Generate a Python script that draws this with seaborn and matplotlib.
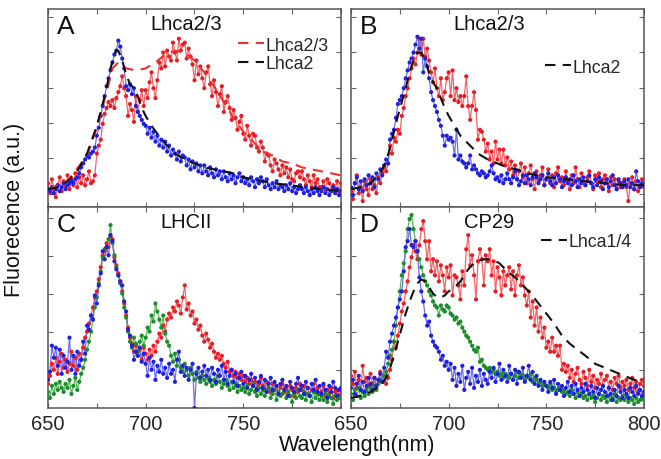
import numpy as np
import pandas as pd
import matplotlib
matplotlib.use("Agg")
import matplotlib.pyplot as plt
import seaborn as sns

sns.set_theme(style="ticks")
plt.rcParams["font.family"] = ["Liberation Sans", "DejaVu Sans"]

# wavelength grid (nm), 1 nm steps
wavelength = list(range(650, 801))

# ---------------- Panel A: Lhca2/3 ----------------
a_red = [
    12, 7, 14, 9, 5, 11, 15, 8, 13, 10,
    16, 9, 14, 11, 17, 10, 15, 12, 16, 11,
    14, 18, 12, 13, 16, 27, 31, 34, 42, 47,
    50, 53, 51, 54, 50, 55, 58, 61, 66, 60,
    56, 46, 52, 49, 43, 56, 48, 54, 59, 51,
    59, 55, 63, 68, 60, 55, 64, 73, 70, 78,
    71, 79, 76, 74, 83, 78, 74, 85, 79, 82,
    83, 75, 80, 76, 72, 64, 74, 67, 71, 65,
    60, 68, 71, 62, 56, 64, 58, 51, 57, 61,
    48, 53, 56, 50, 44, 49, 45, 39, 43, 46,
    37, 34, 41, 36, 31, 37, 36, 30, 28, 33,
    30, 23, 27, 26, 21, 18, 24, 22, 19, 16,
    21, 17, 20, 15, 19, 14, 13, 17, 18, 15,
    18, 14, 11, 16, 13, 10, 16, 12, 14, 10,
    10, 13, 9, 14, 12, 8, 11, 9, 13, 8,
    12]
a_blue = [
    9, 8, 10, 7, 9, 11, 8, 10, 12, 9,
    11, 12, 13, 12, 14, 15, 17, 20, 22, 24,
    26, 25, 27, 28, 30, 36, 40, 46, 51, 56,
    61, 65, 69, 73, 77, 79, 84, 81, 75, 70,
    61, 59, 62, 57, 60, 51, 48, 46, 44, 42,
    41, 37, 40, 35, 38, 33, 36, 31, 34, 30,
    33, 28, 31, 26, 29, 27, 24, 28, 23, 26,
    25, 21, 24, 19, 23, 20, 22, 18, 21, 17,
    21, 18, 16, 20, 17, 15, 19, 16, 18, 14,
    18, 15, 13, 17, 14, 16, 12, 15, 17, 13,
    15, 12, 14, 11, 15, 13, 10, 14, 12, 15,
    13, 10, 14, 11, 9, 12, 10, 13, 9, 11,
    10, 8, 11, 9, 12, 8, 10, 7, 9, 11,
    9, 7, 10, 8, 6, 9, 7, 10, 8, 6,
    8, 10, 7, 9, 6, 8, 10, 7, 9, 6,
    8]
a_fit23_x = [650, 660, 670, 675, 680, 683, 686, 690, 695, 700, 705, 710, 715,
             720, 725, 730, 735, 740, 745, 750, 755, 760, 765, 770, 775, 780,
             785, 790, 795, 800]
a_fit23_y = [9, 13, 26, 40, 58, 70, 73, 70, 69, 70, 73, 77, 79,
             78, 74, 68, 61, 53, 45, 38, 33, 28, 26, 23, 22, 20,
             19, 18, 17, 16]
a_fit2_x = [650, 655, 660, 665, 670, 675, 678, 680, 682, 684, 685, 686, 688,
            690, 692, 694, 696, 698, 700, 703, 706, 710, 715, 720, 725, 730,
            735, 740, 745, 750, 755, 760, 765, 770, 775, 780, 785, 790, 795, 800]
a_fit2_y = [9, 10, 13, 18, 27, 41, 52, 60, 70, 77, 79, 79, 74,
            67, 62, 60, 56, 50, 46, 41, 37, 32, 27, 24, 22, 20,
            19, 18, 17, 15, 14, 13, 12, 11.5, 11, 10, 9.5, 9, 8.5, 8]

# ---------------- Panel B: Lhca2/3 ----------------
b_red = [
    8, 4, 12, 16, 7, 10, 3, 13, 9, 6,
    14, 9, 11, 7, 15, 12, 17, 20, 18, 22,
    31, 27, 35, 33, 39, 37, 46, 50, 56, 60,
    65, 70, 75, 72, 78, 85, 77, 85, 76, 80,
    74, 68, 63, 70, 60, 56, 65, 54, 58, 65,
    68, 56, 69, 54, 60, 53, 56, 51, 56, 66,
    51, 44, 51, 58, 49, 34, 39, 38, 34, 28,
    32, 24, 28, 22, 33, 24, 29, 22, 29, 21,
    25, 19, 23, 16, 21, 14, 18, 22, 15, 20,
    12, 17, 21, 14, 9, 18, 13, 16, 20, 11,
    14, 19, 12, 16, 10, 17, 20, 13, 15, 11,
    18, 13, 9, 16, 12, 20, 14, 10, 17, 13,
    11, 15, 18, 12, 9, 16, 13, 17, 10, 14,
    16, 12, 8, 15, 11, 14, 9, 13, 10, 12,
    14, 10, 3, 12, 15, 9, 13, 8, 11, 14,
    10]
b_blue = [
    10, 6, 12, 15, 9, 13, 8, 14, 11, 16,
    12, 15, 10, 17, 14, 19, 16, 21, 24, 22,
    34, 37, 39, 45, 52, 54, 56, 60, 65, 69,
    73, 75, 78, 82, 86, 80, 85, 68, 75, 71,
    65, 58, 54, 51, 48, 44, 41, 36, 31, 36,
    34, 35, 33, 26, 39, 24, 26, 23, 22, 20,
    22, 26, 19, 21, 19, 17, 16, 18, 17, 15,
    16, 18, 21, 17, 14, 15, 13, 16, 12, 14,
    17, 14, 12, 15, 18, 14, 11, 13, 16, 12,
    16, 14, 11, 15, 17, 15, 12, 14, 16, 11,
    14, 17, 13, 11, 15, 12, 16, 14, 10, 13,
    15, 12, 14, 11, 16, 13, 10, 14, 12, 15,
    11, 13, 16, 12, 10, 14, 11, 15, 13, 9,
    12, 14, 10, 13, 16, 11, 9, 14, 12, 10,
    13, 11, 14, 10, 12, 9, 18, 13, 10, 12,
    11]
b_fit2_x = [650, 655, 660, 665, 668, 670, 672, 674, 676, 678, 680, 682, 684,
            686, 688, 690, 692, 694, 696, 698, 700, 703, 706, 710, 715, 720,
            725, 730, 735, 740, 745, 750, 760, 770, 780, 790, 800]
b_fit2_y = [9, 10, 12, 17, 23, 30, 38, 46, 53, 60, 68, 74, 78,
            78, 74, 68, 63, 60, 55, 50, 46, 41, 36, 32, 27, 24,
            22, 20, 19, 17, 16, 15, 14, 13, 12, 11, 11]

# ---------------- Panel C: LHCII ----------------
c_red = [
    12, 16, 22, 19, 25, 17, 23, 27, 20, 24,
    18, 22, 28, 21, 25, 19, 27, 24, 30, 35,
    38, 42, 46, 50, 55, 58, 64, 70, 76, 78,
    82, 80, 85, 84, 75, 71, 67, 63, 58, 52,
    46, 40, 35, 32, 28, 31, 26, 29, 24, 30,
    27, 24, 29, 26, 31, 28, 33, 37, 35, 41,
    38, 44, 47, 45, 50, 48, 53, 51, 47, 55,
    61, 49, 52, 46, 48, 42, 44, 39, 41, 36,
    33, 37, 34, 30, 32, 28, 25, 27, 24, 26,
    22, 20, 23, 18, 19, 16, 18, 15, 17, 14,
    16, 13, 15, 12, 14, 11, 13, 10, 12, 15,
    11, 9, 13, 10, 8, 12, 9, 11, 7, 10,
    12, 8, 10, 7, 11, 9, 6, 10, 8, 12,
    9, 11, 7, 10, 6, 9, 12, 8, 10, 7,
    8, 11, 6, 9, 7, 10, 5, 8, 9, 6,
    7]
c_green = [
    8, 5, 11, 7, 12, 9, 13, 10, 8, 12,
    10, 14, 7, 11, 15, 9, 13, 17, 20, 24,
    29, 33, 38, 44, 50, 55, 62, 68, 75, 79,
    80, 84, 91, 82, 76, 70, 66, 62, 57, 50,
    45, 38, 33, 30, 35, 32, 28, 33, 36, 31,
    35, 40, 38, 46, 43, 52, 48, 44, 40, 46,
    37, 33, 31, 26, 23, 27, 21, 24, 20, 18,
    22, 19, 16, 20, 17, 14, 18, 15, 13, 16,
    14, 12, 15, 13, 11, 14, 12, 16, 13, 10,
    12, 14, 11, 9, 13, 10, 12, 8, 11, 9,
    10, 8, 11, 7, 9, 12, 8, 6, 10, 7,
    9, 6, 8, 10, 5, 7, 9, 4, 8, 6,
    7, 9, 5, 8, 6, 3, 7, 5, 9, 6,
    5, 8, 4, 7, 6, 3, 8, 5, 7, 4,
    6, 4, 7, 3, 6, 5, 2, 6, 4, 5,
    5]
c_blue = [
    14, 18, 31, 25, 30, 21, 29, 17, 26, 20,
    23, 35, 19, 26, 17, 28, 21, 24, 33, 27,
    41, 39, 46, 44, 56, 52, 61, 67, 78, 74,
    80, 76, 86, 83, 73, 69, 66, 63, 61, 53,
    48, 39, 36, 31, 24, 28, 26, 30, 23, 27,
    22, 16, 25, 19, 23, 14, 21, 18, 24, 17,
    20, 15, 22, 17, 19, 13, 24, 28, 18, 21,
    16, 20, 14, 19, 22, 0, 17, 20, 15, 18,
    21, 16, 19, 14, 20, 17, 13, 19, 16, 21,
    14, 18, 12, 16, 19, 13, 17, 11, 15, 18,
    12, 16, 10, 14, 17, 11, 15, 9, 13, 16,
    10, 14, 8, 12, 15, 9, 13, 11, 7, 12,
    14, 9, 11, 6, 13, 10, 8, 12, 15, 9,
    11, 7, 13, 10, 6, 12, 9, 14, 8, 11,
    7, 12, 9, 5, 11, 8, 13, 10, 6, 9,
    10]

# ---------------- Panel D: CP29 ----------------
d_red = [
    16, 12, 18, 10, 14, 9, 21, 13, 15, 11,
    17, 12, 15, 10, 14, 18, 13, 16, 12, 15,
    19, 24, 33, 30, 36, 42, 48, 52, 58, 63,
    70, 75, 81, 78, 74, 81, 89, 93, 83, 74,
    83, 68, 74, 66, 73, 63, 71, 66, 58, 70,
    65, 71, 56, 66, 65, 61, 54, 68, 61, 79,
    86, 71, 76, 66, 54, 73, 79, 74, 61, 76,
    73, 79, 66, 73, 58, 70, 65, 56, 68, 61,
    66, 70, 59, 68, 56, 66, 71, 61, 65, 56,
    51, 58, 45, 53, 41, 50, 38, 45, 35, 40,
    30, 33, 28, 35, 28, 31, 26, 31, 19, 22,
    18, 21, 15, 19, 13, 17, 20, 14, 12, 18,
    15, 11, 19, 13, 16, 10, 14, 12, 17, 11,
    14, 16, 10, 13, 9, 15, 12, 16, 10, 13,
    11, 14, 9, 12, 15, 10, 13, 8, 12, 14,
    11]
d_green = [
    7, 4, 9, 6, 10, 5, 8, 6, 9, 7,
    10, 8, 11, 9, 12, 14, 13, 16, 18, 22,
    26, 29, 33, 41, 50, 58, 66, 72, 78, 89,
    94, 96, 89, 83, 78, 74, 70, 66, 63, 61,
    58, 56, 53, 51, 50, 46, 51, 49, 48, 51,
    50, 47, 46, 44, 45, 42, 43, 40, 38, 36,
    35, 33, 31, 29, 28, 30, 23, 24, 21, 20,
    19, 20, 18, 19, 17, 18, 16, 17, 15, 17,
    16, 15, 17, 14, 16, 18, 15, 17, 16, 14,
    16, 15, 17, 13, 15, 14, 12, 13, 11, 12,
    11, 10, 12, 9, 10, 8, 9, 10, 8, 9,
    7, 8, 6, 9, 7, 5, 8, 6, 7, 5,
    6, 4, 7, 5, 6, 3, 5, 7, 4, 6,
    5, 3, 6, 4, 5, 7, 3, 5, 4, 6,
    4, 6, 3, 5, 4, 2, 5, 3, 4, 5,
    4]
d_blue = [
    10, 14, 7, 12, 16, 9, 13, 8, 11, 15,
    12, 9, 15, 11, 14, 17, 13, 20, 28, 25,
    33, 37, 41, 45, 50, 54, 58, 68, 80, 83,
    89, 81, 80, 83, 78, 65, 58, 53, 46, 41,
    43, 36, 33, 31, 30, 28, 24, 26, 21, 23,
    19, 22, 14, 20, 11, 17, 13, 21, 9, 15,
    18, 12, 20, 10, 16, 13, 19, 11, 17, 14,
    12, 18, 15, 20, 13, 17, 22, 14, 19, 16,
    13, 21, 17, 14, 19, 12, 18, 15, 20, 13,
    16, 21, 14, 18, 12, 16, 11, 14, 9, 13,
    11, 8, 13, 10, 14, 7, 12, 9, 11, 6,
    10, 13, 8, 11, 7, 12, 9, 6, 10, 8,
    12, 9, 7, 11, 8, 5, 10, 7, 9, 11,
    8, 6, 10, 7, 4, 9, 6, 11, 8, 5,
    9, 7, 5, 10, 8, 6, 11, 7, 9, 6,
    8]
d_fit14_x = [650, 655, 660, 665, 668, 670, 672, 674, 676, 678, 680, 682, 684,
             686, 688, 690, 692, 694, 696, 698, 700, 703, 706, 710, 714, 718,
             722, 726, 730, 734, 738, 742, 746, 750, 754, 758, 762, 766, 770,
             775, 780, 785, 790, 795, 800]
d_fit14_y = [5, 6, 8, 11, 15, 20, 26, 33, 40, 47, 53, 58, 62,
             64, 63, 60, 57, 55, 55, 56, 58, 60, 63, 69, 73, 74,
             74, 72, 68, 65, 61, 57, 52, 47, 42, 36, 32, 29, 26,
             22, 20, 18, 16, 14, 13]

# colours: marker colour, connecting line colour
RED = ("#e51e25", "#f2666a")
GREEN = ("#1c8c2c", "#5cb860")
BLUE = ("#1f1fe0", "#6e6ef0")

fig = plt.figure(figsize=(6.61, 4.60), dpi=100)
W, H = 661, 460


def add_panel(left, top, right, bottom):
    return fig.add_axes([left / W, 1 - bottom / H, (right - left) / W, (bottom - top) / H])


ax_a = add_panel(48, 10, 341, 208)
ax_b = add_panel(351, 10, 644, 208)
ax_c = add_panel(48, 208, 341, 409)
ax_d = add_panel(351, 208, 644, 409)


def draw_spectrum(ax, values, colors):
    df = pd.DataFrame({"nm": wavelength, "f": values})
    sns.lineplot(data=df, x="nm", y="f", ax=ax, color=colors[1], lw=0.9,
                 legend=False, zorder=2)
    sns.scatterplot(data=df, x="nm", y="f", ax=ax, color=colors[0], s=9,
                    edgecolor="none", legend=False, zorder=3)


def draw_fit(ax, xs, ys, color, label):
    df = pd.DataFrame({"nm": xs, "f": ys})
    sns.lineplot(data=df, x="nm", y="f", ax=ax, color=color, lw=1.5,
                 dashes=False, zorder=4, label=label, legend=False)
    ax.lines[-1].set_linestyle((0, (5, 3.5)))


draw_spectrum(ax_a, a_red, RED)
draw_spectrum(ax_a, a_blue, BLUE)
draw_fit(ax_a, a_fit23_x, a_fit23_y, "#f03030", "Lhca2/3")
draw_fit(ax_a, a_fit2_x, a_fit2_y, "#111111", "Lhca2")

draw_spectrum(ax_b, b_red, RED)
draw_spectrum(ax_b, b_blue, BLUE)
draw_fit(ax_b, b_fit2_x, b_fit2_y, "#111111", "Lhca2")

draw_spectrum(ax_c, c_red, RED)
draw_spectrum(ax_c, c_green, GREEN)
draw_spectrum(ax_c, c_blue, BLUE)

draw_spectrum(ax_d, d_red, RED)
draw_spectrum(ax_d, d_green, GREEN)
draw_spectrum(ax_d, d_blue, BLUE)
draw_fit(ax_d, d_fit14_x, d_fit14_y, "#111111", "Lhca1/4")

titles = {ax_a: ("A", "Lhca2/3"), ax_b: ("B", "Lhca2/3"),
          ax_c: ("C", "LHCII"), ax_d: ("D", "CP29")}
top_row_ticks = [6.6 + 17.9 * k for k in range(6)]
bottom_row_ticks = [18.9 * k for k in range(1, 6)]

for ax, (letter, name) in titles.items():
    ax.set_xlim(650, 800)
    ax.set_ylim(0, 100)
    ax.set_xlabel("")
    ax.set_ylabel("")
    ax.set_xticks([650, 700, 750, 800])
    ax.set_xticks([675, 725, 775], minor=True)
    ax.set_yticks(top_row_ticks if ax in (ax_a, ax_b) else bottom_row_ticks)
    ax.set_yticklabels([])
    ax.tick_params(axis="both", which="both", direction="in", top=True,
                   right=True, length=3.5, width=0.8, color="#666666",
                   labelsize=14.5, pad=4)
    for sp in ax.spines.values():
        sp.set_visible(True)
        sp.set_color("#555555")
        sp.set_linewidth(1.1)
    ax.text(0.03, 0.975, letter, transform=ax.transAxes, fontsize=19,
            va="top", ha="left", color="#111111")
    ax.text(0.47, 0.975, name, transform=ax.transAxes, fontsize=14.5,
            va="top", ha="center", color="#111111")

for ax in (ax_a, ax_b):
    ax.set_xticklabels([])
ax_c.set_xticklabels(["650", "700", "750", ""])
ax_d.set_xticklabels(["650", "700", "750", "800"])

legend_kw = dict(frameon=False, fontsize=12.8, handlelength=1.45,
                 handletextpad=0.1, labelspacing=0.1, borderpad=0,
                 borderaxespad=0, loc="upper left")
ax_a.legend(bbox_to_anchor=(0.648, 0.86), **legend_kw)
ax_b.legend(bbox_to_anchor=(0.662, 0.75), **legend_kw)
ax_d.legend(bbox_to_anchor=(0.648, 0.87), **legend_kw)

fig.text(357 / W, 1 - 446 / H, "Wavelength(nm)", ha="center", va="center",
         fontsize=15.5, color="#111111")
fig.text(15 / W, 1 - 210 / H, "Fluorecence (a.u.)", ha="center", va="center",
         rotation=90, fontsize=15.5, color="#111111")

fig.savefig("out.png", dpi=100)
